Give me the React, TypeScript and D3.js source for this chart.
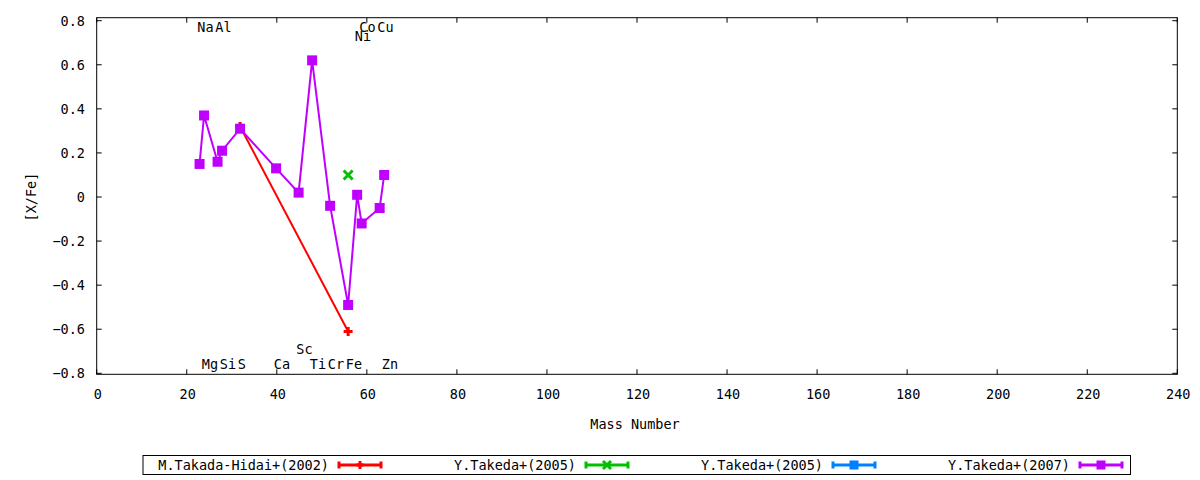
import * as d3 from 'd3';

// Takeda+(2007): mass number and [X/Fe]
const takeda2007Mass = [23, 24, 27, 28, 32, 40, 45, 48, 52, 56, 58, 59, 63, 64];
const takeda2007Value = [0.15, 0.37, 0.16, 0.21, 0.31, 0.13, 0.02, 0.62, -0.04, -0.49, 0.01, -0.12, -0.05, 0.1];

// M.Takada-Hidai+(2002)
const takadaMass = [32, 56];
const takadaValue = [0.32, -0.61];

// Y.Takeda+(2005), two sets
const takeda2005aMass = [56];
const takeda2005aValue = [0.1];
const takeda2005bMass: number[] = [];
const takeda2005bValue: number[] = [];

// element labels
const elementNames = ['Na', 'Al', 'Co', 'Cu', 'Ni', 'Mg', 'Si', 'S', 'Ca', 'Sc', 'Ti', 'Cr', 'Fe', 'Zn'];
const elementMass = [23, 27, 59, 63, 58, 24, 28, 32, 40, 45, 48, 52, 56, 64];
const elementY = [0.77, 0.77, 0.77, 0.77, 0.73, -0.76, -0.76, -0.76, -0.76, -0.69, -0.76, -0.76, -0.76, -0.76];

const xTicks = d3.range(0, 241, 20);
const yTicks = [-0.8, -0.6, -0.4, -0.2, 0, 0.2, 0.4, 0.6, 0.8];

const legendLabels = ['M.Takada-Hidai+(2002)', 'Y.Takeda+(2005)', 'Y.Takeda+(2005)', 'Y.Takeda+(2007)'];
const legendColors = ['#ff0000', '#00c000', '#0080ff', '#c000ff'];
const legendMarkers = ['plus', 'cross', 'square', 'square'];

const FONT = '"DejaVu Sans Mono", monospace';
const W = 1200;
const H = 480;
const left = 96.7;
const right = 1177.3;
const top = 17.7;
const bottom = 374.3;

function Marker({ kind, x, y, color, size }: { kind: string; x: number; y: number; color: string; size: number }) {
  const h = size / 2;
  if (kind === 'square') {
    return <rect x={x - h} y={y - h} width={size} height={size} fill={color} />;
  }
  if (kind === 'plus') {
    return (
      <path d={`M${x - h},${y}H${x + h}M${x},${y - h}V${y + h}`} stroke={color} strokeWidth={3} fill="none" />
    );
  }
  return (
    <path d={`M${x - h},${y - h}L${x + h},${y + h}M${x - h},${y + h}L${x + h},${y - h}`} stroke={color} strokeWidth={3} fill="none" />
  );
}

export default function App() {
  const x = d3.scaleLinear().domain([0, 240]).range([left, right]);
  const y = d3.scaleLinear().domain([-0.8, 0.8]).range([373.3, 20.7]);
  const line = d3
    .line<[number, number]>()
    .x((d) => x(d[0]) - 0.7)
    .y((d) => y(d[1]));

  const series = [
    { mass: takadaMass, value: takadaValue },
    { mass: takeda2005aMass, value: takeda2005aValue },
    { mass: takeda2005bMass, value: takeda2005bValue },
    { mass: takeda2007Mass, value: takeda2007Value },
  ];

  const legendStep = 247;
  const legendTextEnd = 329;
  const legendY = 465;

  return (
    <svg width={W} height={H} style={{ position: 'absolute', left: 0, top: 0, background: '#fff' }} fontFamily={FONT} fontSize={13.5}>
      <rect width={W} height={H} fill="#fff" />

      {/* ticks, mirrored on all four sides */}
      <g stroke="#000" strokeWidth={1}>
        {xTicks.map((t) => (
          <g key={`x${t}`}>
            <line x1={x(t)} x2={x(t)} y1={bottom} y2={bottom - 5} />
            <line x1={x(t)} x2={x(t)} y1={top} y2={top + 5} />
          </g>
        ))}
        {yTicks.map((t) => (
          <g key={`y${t}`}>
            <line x1={left} x2={left + 5} y1={y(t)} y2={y(t)} />
            <line x1={right} x2={right - 5} y1={y(t)} y2={y(t)} />
          </g>
        ))}
      </g>

      {xTicks.map((t) => (
        <text key={`xl${t}`} x={x(t) + 1} y={394} dy="0.36em" textAnchor="middle">
          {t}
        </text>
      ))}
      {yTicks.map((t) => (
        <text key={`yl${t}`} x={85} y={y(t)} dy="0.36em" textAnchor="end">
          {t === 0 ? '0' : d3.format('.1f')(t)}
        </text>
      ))}

      <text x={31} y={197} dy="0.36em" textAnchor="middle" transform="rotate(-90 31 197)">
        [X/Fe]
      </text>
      <text x={635} y={424} dy="0.36em" textAnchor="middle">
        Mass Number
      </text>

      {/* element labels */}
      {elementNames.map((n, i) => (
        <text key={n} x={x(elementMass[i]) - 3} y={y(elementY[i])} dy="0.36em">
          {n}
        </text>
      ))}

      {/* data */}
      {series.map((s, si) => {
        const pts = s.mass.map((m, i) => [m, s.value[i]] as [number, number]);
        return (
          <g key={si}>
            {pts.length > 1 && <path d={line(pts) ?? ''} fill="none" stroke={legendColors[si]} strokeWidth={2} />}
            {pts.map((p, i) => (
              <Marker
                key={i}
                kind={legendMarkers[si]}
                x={x(p[0]) - 0.7}
                y={y(p[1])}
                color={legendColors[si]}
                size={legendMarkers[si] === 'square' ? 10 : 9}
              />
            ))}
          </g>
        );
      })}

      <rect x={left} y={top} width={right - left} height={bottom - top} fill="none" stroke="#000" strokeWidth={1} />

      {/* legend */}
      <rect x={143} y={455.5} width={987.5} height={19} fill="none" stroke="#000" strokeWidth={1} />
      {legendLabels.map((l, i) => {
        const te = legendTextEnd + i * legendStep;
        const x0 = te + 9;
        const x1 = x0 + 44;
        const c = legendColors[i];
        return (
          <g key={i}>
            <text x={te} y={legendY} dy="0.36em" textAnchor="end">
              {l}
            </text>
            <g stroke={c} strokeWidth={3}>
              <line x1={x0} x2={x1} y1={legendY} y2={legendY} />
              <line x1={x0 + 1} x2={x0 + 1} y1={legendY - 3.5} y2={legendY + 3.5} />
              <line x1={x1 - 1} x2={x1 - 1} y1={legendY - 3.5} y2={legendY + 3.5} />
            </g>
            <Marker kind={legendMarkers[i]} x={(x0 + x1) / 2} y={legendY} color={c} size={legendMarkers[i] === 'square' ? 9 : 8} />
          </g>
        );
      })}
    </svg>
  );
}
